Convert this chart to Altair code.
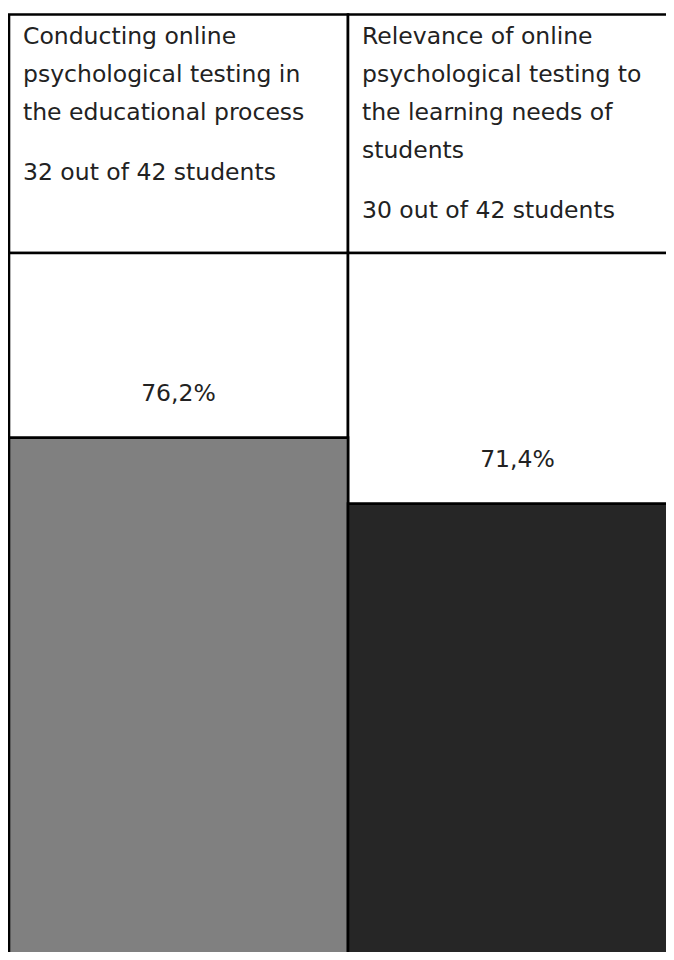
import altair as alt
import pandas as pd

# ---- data ----
titles = [
    "Conducting online\npsychological testing in\nthe educational process",
    "Relevance of online\npsychological testing to\nthe learning needs of\nstudents",
]
counts = ["32 out of 42 students", "30 out of 42 students"]
percents = [76.2, 71.4]
labels = ["76,2%", "71,4%"]
bar_colors = ["#808080", "#262626"]

# ---- layout ----
SVG_W = 658           # page content width (right column is cropped at the edge)
LEFT_PAD = 1
PLOT_W = SVG_W - LEFT_PAD
COL_W = 339           # width of one table column
TOP_PAD = 6.5
SVG_H = 944
PLOT_H = SVG_H - TOP_PAD
HEADER_H = 238.5
FONT = "DejaVu Sans"
FS = 23.5
LH = 38
TXT = "#222222"
STROKE = 2.6

df = pd.DataFrame({
    "idx": list(range(len(titles))),
    "title": titles,
    "count": counts,
    "pct": percents,
    "label": labels,
})

# the original picture is a crop of a taller chart: only the upper part of the bars is visible
xscale = alt.Scale(domain=[0, PLOT_W / COL_W], nice=False, zero=False)
yscale = alt.Scale(domain=[38.79, 106.97], nice=False, zero=False)

base = alt.Chart(df).transform_calculate(
    x0="datum.idx",
    x1="datum.idx + 1",
    xc="datum.idx + 0.5",
    sub_y=f"29.8 + (length(split(datum.title, '\\n')) - 1) * {LH} + 60",
)

X = alt.X("x0:Q", scale=xscale, axis=None)

header = base.mark_rect(fill="white", stroke="black", strokeWidth=STROKE).encode(
    x=X, x2="x1:Q", y=alt.value(0), y2=alt.value(HEADER_H)
)
body = base.mark_rect(fill="white", stroke="black", strokeWidth=STROKE).encode(
    x=X, x2="x1:Q", y=alt.value(HEADER_H), y2=alt.value(PLOT_H + 40)
)
bars = base.mark_rect(stroke="black", strokeWidth=STROKE).encode(
    x=X,
    x2="x1:Q",
    y=alt.Y("pct:Q", scale=yscale, axis=None),
    y2=alt.datum(0),
    fill=alt.Fill("title:N", scale=alt.Scale(domain=titles, range=bar_colors), legend=None),
)
title_text = base.mark_text(
    align="left", baseline="alphabetic", font=FONT, fontSize=FS,
    lineHeight=LH, lineBreak="\n", dx=14, color=TXT,
).encode(x=X, y=alt.value(29.8), text="title:N")
count_text = base.mark_text(
    align="left", baseline="alphabetic", font=FONT, fontSize=FS, dx=14, color=TXT,
).encode(x=X, y=alt.Y("sub_y:Q", scale=None), text="count:N")
pct_text = base.mark_text(
    align="center", baseline="middle", font=FONT, fontSize=FS, dy=-44, color=TXT,
).encode(
    x=alt.X("xc:Q", scale=xscale, axis=None),
    y=alt.Y("pct:Q", scale=yscale, axis=None),
    text="label:N",
)

chart = alt.layer(header, body, bars, title_text, count_text, pct_text).properties(
    width=PLOT_W,
    height=PLOT_H,
    padding={"left": LEFT_PAD, "top": TOP_PAD, "right": 0, "bottom": 0},
    autosize=alt.AutoSizeParams(type="none"),
).configure_view(stroke=None)

chart.save("out.html", embed_options={"renderer": "svg", "actions": False})
